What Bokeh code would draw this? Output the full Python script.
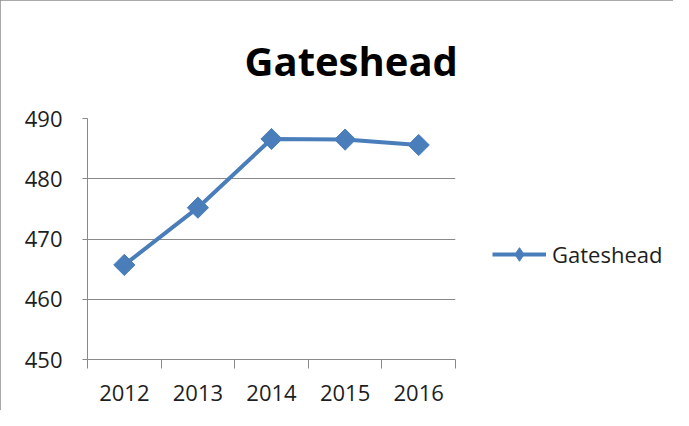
import numpy as np
from bokeh.plotting import figure
from bokeh.models import Range1d, FixedTicker, Legend, LegendItem, ColumnDataSource
from bokeh.embed import file_html
from bokeh.resources import INLINE

# ---- data ----
years = ["2012", "2013", "2014", "2015", "2016"]
values = [465.7, 475.2, 486.6, 486.5, 485.6]
series_name = "Gateshead"
title_text = "Gateshead"
y_ticks = [450, 460, 470, 480, 490]

# ---- styles ----
BLUE = "#4a7ebb"
GRAY = "#898989"
TXT = "#1e1e1e"
FONT = "Open Sans"

xpos = [i + 0.5 for i in range(len(years))]
bounds = list(range(len(years) + 1))
src = ColumnDataSource(dict(x=xpos, y=values, year=years))

p = figure(width=673, height=410, frame_width=368, frame_height=241,
           output_backend="svg", toolbar_location=None,
           x_range=Range1d(0, len(years)), y_range=Range1d(y_ticks[0], y_ticks[-1]),
           min_border_left=87, min_border_right=218, min_border_top=118,
           min_border_bottom=51)
p.styles = {"outline": "2px solid #8c8c8c", "outline-offset": "-2px",
            "max-width": "673px", "max-height": "410px", "overflow": "hidden"}
p.outline_line_color = None
p.background_fill_color = "white"
p.border_fill_color = "white"

# title
p.title.text = title_text
p.title.text_font = FONT
p.title.text_font_style = "bold"
p.title.text_font_size = "40px"
p.title.text_color = "black"
p.title.align = "left"
p.title.offset = 157
p.title.standoff = 61

# y axis
ya = p.yaxis[0]
ya.ticker = FixedTicker(ticks=y_ticks)
ya.axis_line_color = GRAY
ya.major_tick_line_color = GRAY
ya.major_tick_out = 5
ya.major_tick_in = 0
ya.minor_tick_line_color = None
ya.major_label_standoff = 20
ya.major_label_text_font = FONT
ya.major_label_text_font_size = "22px"
ya.major_label_text_color = TXT

# x axis
xa = p.xaxis[0]
xa.ticker = FixedTicker(ticks=xpos, minor_ticks=bounds)
xa.major_label_overrides = {xv: y for xv, y in zip(xpos, years)}
xa.axis_line_color = GRAY
xa.major_tick_line_color = None
xa.major_tick_out = 0
xa.major_tick_in = 0
xa.minor_tick_line_color = GRAY
xa.minor_tick_out = 9
xa.minor_tick_in = 0
xa.major_label_standoff = 16
xa.major_label_text_font = FONT
xa.major_label_text_font_size = "22px"
xa.major_label_text_color = TXT

# grid
p.xgrid.grid_line_color = None
p.ygrid.grid_line_color = GRAY
p.ygrid.grid_line_width = 1

# series
lr = p.line("x", "y", source=src, line_color=BLUE, line_width=4)
# diamond used for the legend key (hidden beneath the larger markers)
dr = p.scatter("x", "y", source=src, marker="diamond", size=12,
               fill_color=BLUE, line_color=BLUE)
sr = p.scatter("x", "y", source=src, marker="square", size=15, angle=np.pi / 4,
               fill_color=BLUE, line_color=BLUE)

legend = Legend(items=[LegendItem(label=series_name, renderers=[lr, dr])],
                location=(37, 88), padding=0, margin=0,
                border_line_color=None, background_fill_alpha=0,
                glyph_width=54, glyph_height=34, label_standoff=6,
                label_text_font=FONT, label_text_font_size="22px",
                label_text_color=TXT)
p.add_layout(legend, "right")

open("out.html", "w").write(file_html(p, INLINE))
